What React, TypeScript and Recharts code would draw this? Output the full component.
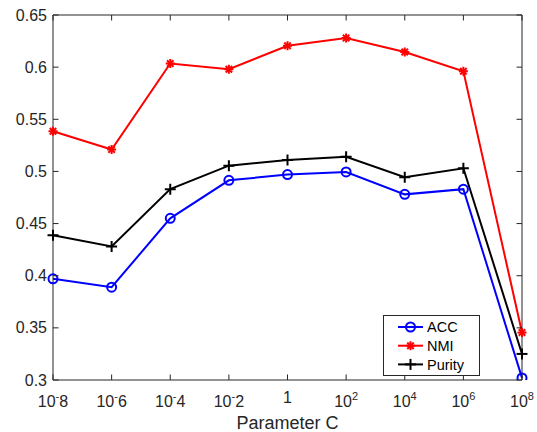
import { LineChart, Line, XAxis, YAxis, Legend } from "recharts";

// x categories: parameter C = 10^exp
const exponents = [-8, -6, -4, -2, 0, 2, 4, 6, 8];
const acc = [0.397, 0.389, 0.455, 0.4915, 0.497, 0.4995, 0.478, 0.483, 0.302];
const nmi = [0.5385, 0.521, 0.6035, 0.598, 0.6205, 0.628, 0.6145, 0.596, 0.3455];
const purity = [0.4387, 0.428, 0.483, 0.5055, 0.511, 0.514, 0.4945, 0.503, 0.325];
const yTicks = [0.3, 0.35, 0.4, 0.45, 0.5, 0.55, 0.6, 0.65];
const yLabels = ["0.3", "0.35", "0.4", "0.45", "0.5", "0.55", "0.6", "0.65"];

const data = exponents.map((e, i) => ({
  c: String(e),
  acc: acc[i],
  nmi: nmi[i],
  purity: purity[i],
}));

const AXIS = "#262626";
const FONT = "'Liberation Sans', Arial, Helvetica, sans-serif";
const TICK = 5.5;

function XTick(props: any) {
  const { x, y, payload } = props;
  const e = Number(payload.value);
  let label;
  if (e === 0) {
    label = (
      <text x={x} y={y + 23} textAnchor="middle" fontSize={16} fill={AXIS}>
        1
      </text>
    );
  } else if (e < 0) {
    // matlab tex: 10^-8 only raises the minus sign
    label = (
      <text x={x} y={y + 27} textAnchor="middle" fontSize={16} fill={AXIS}>
        <tspan>10</tspan>
        <tspan dy={-7.5} fontSize={11}>-</tspan>
        <tspan dy={7.5}>{String(-e)}</tspan>
      </text>
    );
  } else {
    label = (
      <text x={x} y={y + 27} textAnchor="middle" fontSize={16} fill={AXIS}>
        <tspan>10</tspan>
        <tspan dy={-7} fontSize={11}>{String(e)}</tspan>
      </text>
    );
  }
  return (
    <g>
      <line x1={x} y1={y} x2={x} y2={y - TICK} stroke={AXIS} />
      {label}
    </g>
  );
}

function XTopTick(props: any) {
  const { x, y } = props;
  return <line x1={x} y1={y} x2={x} y2={y + TICK} stroke={AXIS} />;
}

function YTick(props: any) {
  const { x, y, payload } = props;
  const i = yTicks.indexOf(payload.value);
  return (
    <g>
      <line x1={x} y1={y} x2={x + TICK} y2={y} stroke={AXIS} />
      <text x={x - 6} y={y + 5.5} textAnchor="end" fontSize={16} fill={AXIS}>
        {i >= 0 ? yLabels[i] : payload.value}
      </text>
    </g>
  );
}

function YRightTick(props: any) {
  const { x, y } = props;
  return <line x1={x} y1={y} x2={x - TICK} y2={y} stroke={AXIS} />;
}

function Star({ cx, cy, color, s = 4.5 }: any) {
  const d = s * 0.72;
  return (
    <g stroke={color} strokeWidth={2}>
      <line x1={cx - s} y1={cy} x2={cx + s} y2={cy} />
      <line x1={cx} y1={cy - s} x2={cx} y2={cy + s} />
      <line x1={cx - d} y1={cy - d} x2={cx + d} y2={cy + d} />
      <line x1={cx - d} y1={cy + d} x2={cx + d} y2={cy - d} />
    </g>
  );
}

function Plus({ cx, cy, color, s = 5.5 }: any) {
  return (
    <g stroke={color} strokeWidth={2}>
      <line x1={cx - s} y1={cy} x2={cx + s} y2={cy} />
      <line x1={cx} y1={cy - s} x2={cx} y2={cy + s} />
    </g>
  );
}

function LegendBox() {
  const rows = [
    { name: "ACC", color: "#0000ff", kind: "o" },
    { name: "NMI", color: "#ff0000", kind: "*" },
    { name: "Purity", color: "#000000", kind: "+" },
  ];
  return (
    <svg width={97} height={61} style={{ display: "block" }}>
      <rect x={0.5} y={0.5} width={96} height={60} fill="#fff" stroke={AXIS} />
      {rows.map((r, i) => {
        const cy = 12 + i * 18.7;
        return (
          <g key={r.name}>
            <line x1={15} y1={cy} x2={40} y2={cy} stroke={r.color} strokeWidth={2} />
            {r.kind === "o" && (
              <circle cx={27.5} cy={cy} r={4.5} fill="none" stroke={r.color} strokeWidth={2} />
            )}
            {r.kind === "*" && <Star cx={27.5} cy={cy} color={r.color} />}
            {r.kind === "+" && <Plus cx={27.5} cy={cy} color={r.color} />}
            <text x={44} y={cy + 5.2} fontSize={14.5} fill="#000" fontFamily={FONT}>
              {r.name}
            </text>
          </g>
        );
      })}
    </svg>
  );
}

export default function App() {
  return (
    <div style={{ position: "absolute", left: 0, top: 0, background: "#fff" }}>
      <LineChart
        width={537}
        height={432}
        data={data}
        margin={{ top: 14, right: 14, bottom: 0, left: 0 }}
        style={{ fontFamily: FONT }}
      >
        <XAxis
          dataKey="c"
          height={52}
          stroke={AXIS}
          tickSize={0}
          tickMargin={0}
          tick={<XTick />}
          tickLine={false}
          interval={0}
          label={{
            content: (p: any) => {
              const vb = p.viewBox || { x: 53, width: 469 };
              return (
                <text
                  x={vb.x + vb.width / 2}
                  y={429}
                  textAnchor="middle"
                  fontSize={18}
                  fill={AXIS}
                >
                  Parameter C
                </text>
              );
            },
          }}
        />
        <XAxis
          xAxisId="top"
          dataKey="c"
          orientation="top"
          height={1}
          stroke={AXIS}
          tickSize={0}
          tickMargin={0}
          tick={<XTopTick />}
          tickLine={false}
          interval={0}
        />
        <YAxis
          width={53}
          domain={[0.3, 0.65]}
          ticks={yTicks}
          interval={0}
          stroke={AXIS}
          tickSize={0}
          tickMargin={0}
          tick={<YTick />}
          tickLine={false}
          allowDataOverflow
        />
        <YAxis
          yAxisId="right"
          orientation="right"
          width={1}
          domain={[0.3, 0.65]}
          ticks={yTicks}
          interval={0}
          stroke={AXIS}
          tickSize={0}
          tickMargin={0}
          tick={<YRightTick />}
          tickLine={false}
          allowDataOverflow
        />
        {/* invisible series so the box axes (top/right) get drawn */}
        <Line
          xAxisId="top"
          yAxisId="right"
          dataKey="acc"
          stroke="none"
          dot={false}
          activeDot={false}
          legendType="none"
          isAnimationActive={false}
        />
        <Line
          dataKey="nmi"
          stroke="#ff0000"
          strokeWidth={2}
          isAnimationActive={false}
          dot={(p: any) => <Star key={"n" + p.index} cx={p.cx} cy={p.cy} color="#ff0000" />}
        />
        <Line
          dataKey="purity"
          stroke="#000000"
          strokeWidth={2}
          isAnimationActive={false}
          dot={(p: any) => <Plus key={"p" + p.index} cx={p.cx} cy={p.cy} color="#000000" />}
        />
        <Line
          dataKey="acc"
          stroke="#0000ff"
          strokeWidth={2}
          isAnimationActive={false}
          dot={{ r: 4.5, stroke: "#0000ff", strokeWidth: 2, fill: "none" }}
        />
        <Legend
          layout="horizontal"
          verticalAlign="middle"
          content={() => <LegendBox />}
          wrapperStyle={{ left: 383, top: 315, width: 97, height: 61 }}
        />
      </LineChart>
    </div>
  );
}
